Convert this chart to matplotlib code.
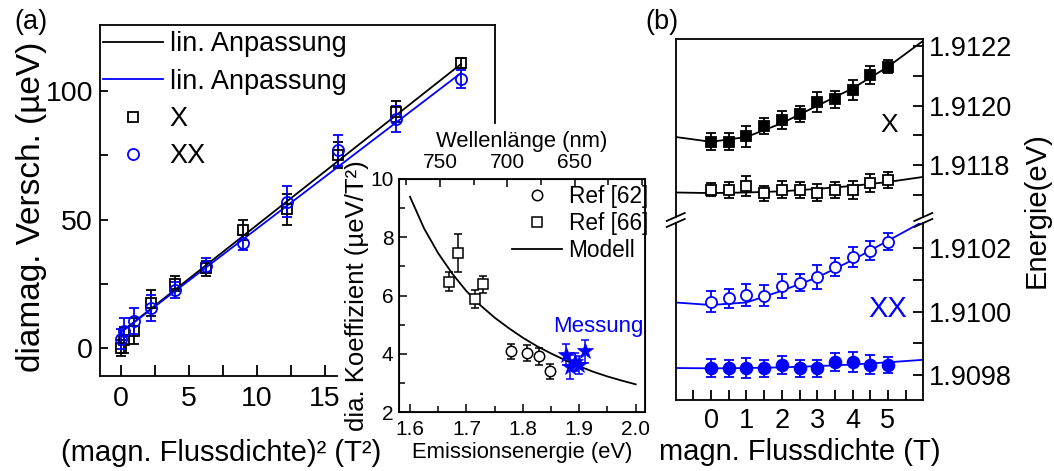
import matplotlib
matplotlib.use("Agg")
import matplotlib.pyplot as plt
from matplotlib.lines import Line2D
from matplotlib.ticker import FixedLocator, FormatStrFormatter

plt.rcParams['font.family'] = ['Liberation Sans', 'DejaVu Sans']

W, H = 1054, 471
BLUE = '#0000ff'

# ---- (a) diamagnetic shift vs B^2
b_sq = [0, 0.25, 1, 2.25, 4, 6.25, 9, 12.25, 16, 20.25, 25]
shift_x = [0, 3, 6.5, 17.5, 25, 31, 46, 54, 75, 92, 111]
shift_x_err = [3, 5, 5, 5, 3, 3, 4, 6, 5, 4, 2]
shift_xx = [3.5, 6.5, 10.5, 15.5, 22.5, 32, 41, 57, 77, 89, 104.5]
shift_xx_err = [4, 5, 5, 5, 3, 3, 3, 6, 6, 5, 3.5]
fit_b_sq = [0, 25]
fit_x = [6, 110.5]
fit_xx = [6, 107]

# ---- inset: diamagnetic coefficient vs emission energy
ref62_e = [1.779, 1.808, 1.829, 1.849]
ref62_c = [4.08, 4.03, 3.91, 3.40]
ref62_err = [0.26, 0.28, 0.28, 0.25]
ref66_e = [1.670, 1.6855, 1.715, 1.730]
ref66_c = [6.48, 7.47, 5.89, 6.39]
ref66_err = [0.34, 0.65, 0.31, 0.29]
mess_e = [1.876, 1.883, 1.893, 1.899, 1.910]
mess_c = [3.97, 3.55, 3.72, 3.62, 4.08]
mess_err = [0.35, 0.4, 0.3, 0.3, 0.4]
model_e = [1.6, 1.625, 1.65, 1.675, 1.7, 1.725, 1.75, 1.775, 1.8,
           1.825, 1.85, 1.875, 1.9, 1.925, 1.95, 1.975, 2.0]
model_c = [9.39, 8.3, 7.45, 6.75, 6.15, 5.66, 5.24, 4.88, 4.55,
           4.26, 4.01, 3.78, 3.57, 3.38, 3.22, 3.08, 2.95]

# ---- (b) energies vs B
b = [0, 0.5, 1, 1.5, 2, 2.5, 3, 3.5, 4, 4.5, 5]
x_filled = [1.911879, 1.911879, 1.911898, 1.911932, 1.911952, 1.911972,
            1.912013, 1.912021, 1.912052, 1.912102, 1.912129]
x_filled_err = [0.29, 0.29, 0.35, 0.28, 0.31, 0.27, 0.33, 0.29, 0.32, 0.29, 0.22]
x_open = [1.911719, 1.911719, 1.911732, 1.911708, 1.911719, 1.911719,
          1.911709, 1.911718, 1.911718, 1.911742, 1.911752]
x_open_err = [0.22, 0.27, 0.34, 0.25, 0.29, 0.27, 0.29, 0.27, 0.30, 0.29, 0.27]
xx_open = [1.910032, 1.910042, 1.910053, 1.910051, 1.910081, 1.910092,
           1.910110, 1.910141, 1.910172, 1.910192, 1.910221]
xx_open_err = [0.32, 0.30, 0.35, 0.32, 0.37, 0.26, 0.37, 0.28, 0.32, 0.30, 0.27]
xx_filled = [1.909821, 1.909821, 1.909821, 1.909821, 1.909832, 1.909821,
             1.909821, 1.909842, 1.909842, 1.909832, 1.909832]
xx_filled_err = [0.28, 0.26, 0.32, 0.26, 0.29, 0.26, 0.26, 0.28, 0.32, 0.30, 0.26]
fit_b = [-1, 0, 1, 2, 3, 4, 5, 6]
fit_x_filled = [1.911895, 1.911879, 1.911895, 1.911941, 1.911999, 1.912057, 1.912129, 1.912216]
fit_x_open = [1.911710, 1.911708, 1.911710, 1.911714, 1.911722, 1.911732, 1.911745, 1.911762]
fit_xx_open = [1.910029, 1.910021, 1.910029, 1.910066, 1.910108, 1.910163, 1.910224, 1.910285]
fit_xx_filled = [1.909822, 1.909821, 1.909822, 1.909824, 1.909828, 1.909833, 1.909840, 1.909848]


def px_box(left, top, right, bottom):
    return [left / W, 1 - bottom / H, (right - left) / W, (bottom - top) / H]


def fx(x):
    return x / W


def fy(y):
    return 1 - y / H


fig = plt.figure(figsize=(W / 100, H / 100), dpi=100)
LW = 1.3

# ================= panel (a)
ax = fig.add_axes(px_box(100, 25, 495, 376))
ax.set_zorder(1)
ax.errorbar(b_sq, shift_x, yerr=shift_x_err, fmt='none', ecolor='k',
            elinewidth=LW, capsize=3.5, capthick=LW)
ax.errorbar(b_sq, shift_xx, yerr=shift_xx_err, fmt='none', ecolor=BLUE,
            elinewidth=LW, capsize=3.5, capthick=LW)
l1, = ax.plot(fit_b_sq, fit_x, '-', color='k', lw=LW)
l2, = ax.plot(fit_b_sq, fit_xx, '-', color=BLUE, lw=LW)
m1, = ax.plot(b_sq, shift_x, 's', mfc='none', mec='k', ms=7, mew=LW)
m2, = ax.plot(b_sq, shift_xx, 'o', mfc='none', mec=BLUE, ms=8, mew=LW)
ax.set_xlim(-1.52, 27.5)
ax.set_ylim(-10.9, 125.7)
ax.xaxis.set_major_locator(FixedLocator([0, 5, 10, 15]))
ax.xaxis.set_minor_locator(FixedLocator([2.5, 7.5, 12.5]))
ax.yaxis.set_major_locator(FixedLocator([0, 50, 100]))
ax.yaxis.set_minor_locator(FixedLocator([25, 75]))
ax.tick_params(axis='both', which='both', direction='in', width=LW,
               labelsize=20.5, top=False, right=False)
ax.tick_params(axis='x', which='both', length=8, pad=7)
ax.tick_params(axis='y', which='both', length=6, pad=5)
for s in ax.spines.values():
    s.set_linewidth(LW)
ax.spines['right'].set_bounds((348 - 123) / 2.57, 125.7)
ax.spines['bottom'].set_bounds(-1.52, (337 - 120.7) / 13.6)
ax.legend([l1, l2, m1, m2], ['lin. Anpassung', 'lin. Anpassung', 'X', 'XX'],
          loc='upper left', bbox_to_anchor=(0.008, 0.982), frameon=False,
          fontsize=19.5, handlelength=2.2, handletextpad=0.25,
          labelspacing=0.42, borderpad=0, borderaxespad=0)
fig.text(fx(221), fy(453), '(magn. Flussdichte)² (T²)', fontsize=21,
         ha='center', va='center')
fig.text(fx(32), fy(207), 'diamag. Versch. (µeV)', fontsize=24,
         rotation=90, ha='center', va='center')
fig.text(fx(31), fy(22), '(a)', fontsize=19.5, ha='center', va='center')

# ================= inset
axin = fig.add_axes(px_box(399, 179, 645, 412))
axin.set_zorder(2)
axin.errorbar(ref62_e, ref62_c, yerr=ref62_err, fmt='none', ecolor='k',
              elinewidth=1.1, capsize=3, capthick=1.1)
axin.errorbar(ref66_e, ref66_c, yerr=ref66_err, fmt='none', ecolor='k',
              elinewidth=1.1, capsize=3, capthick=1.1)
axin.errorbar(mess_e, mess_c, yerr=mess_err, fmt='none', ecolor=BLUE,
              elinewidth=1.1, capsize=3, capthick=1.1)
hm, = axin.plot(model_e, model_c, '-', color='k', lw=LW)
hc, = axin.plot(ref62_e, ref62_c, 'o', mfc='white', mec='k', ms=7.5, mew=1.1)
hs, = axin.plot(ref66_e, ref66_c, 's', mfc='white', mec='k', ms=7, mew=1.1)
axin.plot(mess_e, mess_c, '*', color=BLUE, ms=12, mew=0.5)
axin.text(1.933, 4.93, 'Messung', color=BLUE, fontsize=16,
          ha='center', va='center')
axin.set_xlim(1.5805, 2.0165)
axin.set_ylim(2, 10)
axin.xaxis.set_major_locator(FixedLocator([1.6, 1.7, 1.8, 1.9, 2.0]))
axin.xaxis.set_minor_locator(FixedLocator([1.65, 1.75, 1.85, 1.95]))
axin.yaxis.set_major_locator(FixedLocator([2, 4, 6, 8, 10]))
axin.yaxis.set_minor_locator(FixedLocator([3, 5, 7, 9]))
axin.xaxis.set_major_formatter(FormatStrFormatter('%.1f'))
axin.tick_params(axis='both', which='both', direction='in', width=1.1,
                 labelsize=15, top=False, right=False)
axin.tick_params(axis='both', which='major', length=6)
axin.tick_params(axis='both', which='minor', length=4)
axin.tick_params(axis='x', pad=6)
axin.tick_params(axis='y', pad=4)
for s in axin.spines.values():
    s.set_linewidth(LW)
axin.set_xlabel('Emissionsenergie (eV)', fontsize=15.8, labelpad=2)
axin.set_ylabel('dia. Koeffizient (µeV/T²)', fontsize=18.5, labelpad=1)
axin.legend([hc, hs, hm], ['Ref [62]', 'Ref [66]', 'Modell'],
            loc='upper right', bbox_to_anchor=(1.012, 0.975), frameon=False,
            fontsize=16.3, handlelength=2.2, handletextpad=0.28,
            labelspacing=0.18, borderpad=0, borderaxespad=0)

axtop = axin.twiny()
axtop.set_zorder(3)
axtop.set_xlim(780.5, 597.7)
axtop.xaxis.set_major_locator(FixedLocator([750, 700, 650]))
axtop.xaxis.set_minor_locator(FixedLocator([775, 725, 675, 625, 600]))
axtop.tick_params(axis='x', which='both', direction='in', width=1.1,
                  labelsize=15, pad=5)
axtop.tick_params(axis='x', which='major', length=6)
axtop.tick_params(axis='x', which='minor', length=4)
axtop.set_xlabel('Wellenlänge (nm)', fontsize=15.8, labelpad=4)

# ================= panel (b)
axu = fig.add_axes(px_box(675.7, 39.3, 923.3, 217))
axl = fig.add_axes(px_box(675.7, 223, 923.3, 400))
cap = dict(elinewidth=LW, capsize=3.5, capthick=LW)
axu.errorbar(b, x_filled, yerr=[e * 1e-4 for e in x_filled_err], fmt='none',
             ecolor='k', **cap)
axu.errorbar(b, x_open, yerr=[e * 1e-4 for e in x_open_err], fmt='none',
             ecolor='k', **cap)
axu.plot(fit_b, fit_x_filled, '-', color='k', lw=LW)
axu.plot(fit_b, fit_x_open, '-', color='k', lw=LW)
axu.plot(b, x_filled, 's', color='k', ms=7.5, mew=LW)
axu.plot(b, x_open, 's', mfc='white', mec='k', ms=7.5, mew=LW)
axl.errorbar(b, xx_open, yerr=[e * 1e-4 for e in xx_open_err], fmt='none',
             ecolor=BLUE, **cap)
axl.errorbar(b, xx_filled, yerr=[e * 1e-4 for e in xx_filled_err], fmt='none',
             ecolor=BLUE, **cap)
axl.plot(fit_b, fit_xx_open, '-', color=BLUE, lw=LW)
axl.plot(fit_b, fit_xx_filled, '-', color=BLUE, lw=LW)
axl.plot(b, xx_open, 'o', mfc='white', mec=BLUE, ms=8, mew=LW)
axl.plot(b, xx_filled, 'o', color=BLUE, ms=8.5, mew=LW)

axu.set_ylim(1.9116283, 1.9122207)
axl.set_ylim(1.909721, 1.910280)
axu.yaxis.set_major_locator(FixedLocator([1.9118, 1.9120, 1.9122]))
axu.yaxis.set_minor_locator(FixedLocator([1.9117, 1.9119, 1.9121]))
axl.yaxis.set_major_locator(FixedLocator([1.9098, 1.9100, 1.9102]))
axl.yaxis.set_minor_locator(FixedLocator([1.9099, 1.9101]))
for a in (axu, axl):
    a.set_xlim(-1, 6)
    a.yaxis.set_major_formatter(FormatStrFormatter('%.4f'))
    a.yaxis.tick_right()
    a.tick_params(axis='y', which='both', direction='in', right=True,
                  left=False, length=7, width=LW, labelsize=19.5, pad=4)
    for s in a.spines.values():
        s.set_linewidth(LW)
axu.spines['bottom'].set_visible(False)
axl.spines['top'].set_visible(False)
axu.tick_params(axis='x', which='both', bottom=False, top=False,
                labelbottom=False)
axl.xaxis.set_major_locator(FixedLocator([0, 1, 2, 3, 4, 5]))
axl.xaxis.set_minor_locator(FixedLocator([-0.5, 0.5, 1.5, 2.5, 3.5, 4.5, 5.5]))
axl.tick_params(axis='x', which='both', direction='in', top=False,
                length=7, width=LW, labelsize=19.5, pad=6)
axl.set_xlabel('magn. Flussdichte (T)', fontsize=21, labelpad=3)
axu.text(5.04, 1.911935, 'X', fontsize=19, ha='center', va='center')
axl.text(4.99, 1.9100085, 'XX', fontsize=21, color=BLUE,
         ha='center', va='center')
fig.text(fx(1037), fy(210), 'Energie(eV)', fontsize=21, rotation=90,
         ha='center', va='center')
fig.text(fx(661.7), fy(22), '(b)', fontsize=19.5, ha='center', va='center')

# axis break marks
for xs in (675.7, 923.3):
    for yc in (217, 223):
        fig.add_artist(Line2D([fx(xs - 9), fx(xs + 9)], [fy(yc + 4), fy(yc - 4)],
                              transform=fig.transFigure, color='k', lw=LW))

fig.savefig('out.png', dpi=100)
